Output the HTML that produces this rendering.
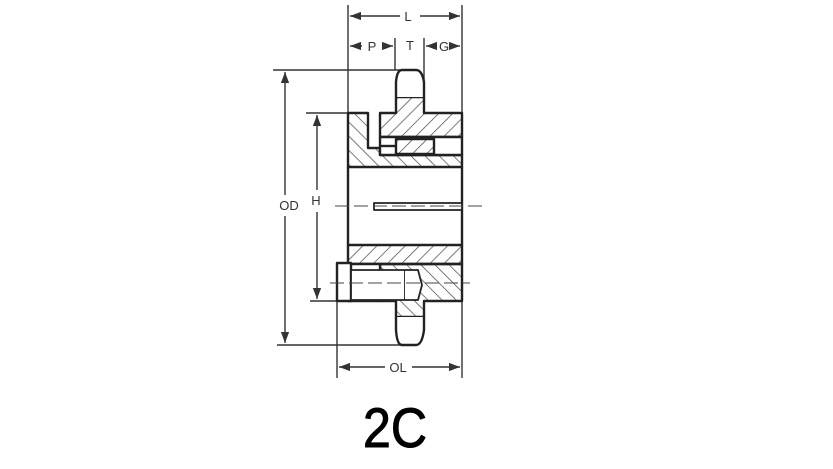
<!DOCTYPE html>
<html><head><style>html,body{margin:0;padding:0;background:#fff;}svg{display:block;}</style></head>
<body>
<svg width="833" height="469" viewBox="0 0 833 469" xmlns="http://www.w3.org/2000/svg">
<defs>
<pattern id="h" patternUnits="userSpaceOnUse" width="10" height="10" patternTransform="rotate(45)">
<line x1="0" y1="0" x2="0" y2="10" stroke="#444" stroke-width="1.4"/>
</pattern>
<pattern id="h2" patternUnits="userSpaceOnUse" width="10" height="10" patternTransform="rotate(-45)">
<line x1="0" y1="0" x2="0" y2="10" stroke="#444" stroke-width="1.4"/>
</pattern>
<marker id="a" markerWidth="8" markerHeight="6" refX="8" refY="3" orient="auto"><path d="M0,0 L8,3 L0,6 z" fill="#333"/></marker>
</defs>
<g stroke="#333" fill="none" stroke-width="1.4">
<line x1="348" y1="5" x2="348" y2="113"/>
<line x1="462" y1="5" x2="462" y2="113"/>
<line x1="395" y1="38" x2="395" y2="70"/>
<line x1="424" y1="38" x2="424" y2="97"/>
<line x1="273" y1="70" x2="400" y2="70"/>
<line x1="306" y1="113" x2="348" y2="113"/>
<line x1="310" y1="301" x2="340" y2="301"/>
<line x1="277" y1="345" x2="405" y2="345"/>
<line x1="337" y1="300" x2="337" y2="378"/>
<line x1="462" y1="300" x2="462" y2="378"/>
<line x1="400" y1="16" x2="350" y2="16" marker-end="url(#a)"/>
<line x1="420" y1="16" x2="460" y2="16" marker-end="url(#a)"/>
<line x1="362" y1="46" x2="350" y2="46" marker-end="url(#a)"/>
<line x1="382" y1="46" x2="393" y2="46" marker-end="url(#a)"/>
<line x1="437" y1="46" x2="426" y2="46" marker-end="url(#a)"/>
<line x1="452" y1="46" x2="460" y2="46" marker-end="url(#a)"/>
<line x1="285" y1="195" x2="285" y2="72" marker-end="url(#a)"/>
<line x1="285" y1="216" x2="285" y2="343" marker-end="url(#a)"/>
<line x1="317" y1="190" x2="317" y2="115" marker-end="url(#a)"/>
<line x1="317" y1="212" x2="317" y2="299" marker-end="url(#a)"/>
<line x1="385" y1="367" x2="339" y2="367" marker-end="url(#a)"/>
<line x1="412" y1="367" x2="460" y2="367" marker-end="url(#a)"/>
</g>
<g font-family="Liberation Sans, sans-serif" font-size="13" fill="#333" text-anchor="middle">
<text x="408" y="21">L</text>
<text x="372" y="51">P</text>
<text x="410" y="50">T</text>
<text x="444" y="51">G</text>
<text x="289" y="210">OD</text>
<text x="316" y="205">H</text>
<text x="398" y="372">OL</text>
</g>
<g stroke="#222" stroke-width="2.4" stroke-linejoin="round">
<path d="M380,113 L396,113 L396,97 L424,97 L424,113 L462,113 L462,137 L380,137 Z" fill="url(#h)"/>
<path d="M396,97 L396,82 Q397,70 402,70 L416,70 Q422,70 424,82 L424,97" fill="#fff"/>
<path d="M348,113 L368,113 L368,148 L380,148 L380,155 L462,155 L462,167 L348,167 Z" fill="url(#h2)"/>
<rect x="380" y="137" width="82" height="18" fill="#fff"/>
<rect x="396" y="139" width="38" height="15" fill="url(#h)"/>
<line x1="380" y1="146" x2="396" y2="146"/>
<line x1="348" y1="167" x2="348" y2="245"/>
<line x1="462" y1="167" x2="462" y2="245"/>
<path d="M348,245 L462,245 L462,264 L348,264 Z" fill="url(#h)"/>
<path d="M380,264 L462,264 L462,301 L424,301 L424,317 L396,317 L396,301 L380,301 Z" fill="url(#h2)"/>
<path d="M396,317 L396,330 Q397,345 402,345 L416,345 Q422,345 424,330 L424,317" fill="#fff"/>
<path d="M348,264 L380,264 L380,301 L348,301 Z" fill="#fff"/>
<rect x="337" y="263" width="14" height="38" fill="#fff"/>
<rect x="351" y="270" width="54" height="30" fill="#fff" stroke-width="1.8"/>
<path d="M405,270 L418,270 L422,285 L418,300 L405,300" fill="#fff" stroke-width="1.8"/>
<rect x="374" y="203" width="88" height="7" fill="#fff" stroke-width="1.8"/>
</g>
<g stroke="#444" stroke-width="1" stroke-dasharray="14,5" fill="none">
<line x1="335" y1="206" x2="482" y2="206"/>
<line x1="330" y1="283" x2="470" y2="283"/>
</g>
<text x="395" y="447" font-family="Liberation Sans, sans-serif" font-size="56" fill="#000" stroke="#000" stroke-width="1" text-anchor="middle" textLength="64" lengthAdjust="spacingAndGlyphs">2C</text>
</svg>
</body></html>
